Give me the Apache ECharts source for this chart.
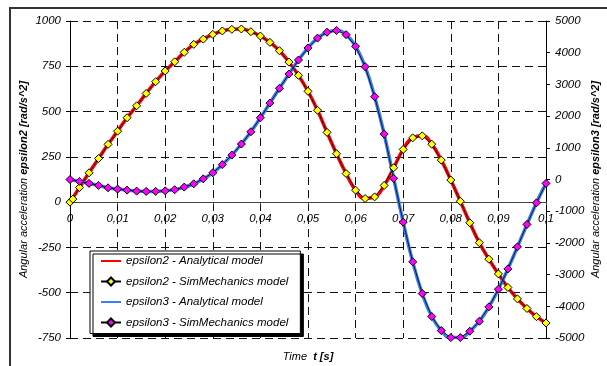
<!DOCTYPE html>
<html>
<head>
<meta charset="utf-8">
<script src="https://cdn.jsdelivr.net/npm/echarts@6/dist/echarts.min.js"></script>
<style>
    html, body { margin: 0; padding: 0; background: #fff; }
    #chart { width: 607px; height: 366px; }
</style>
</head>
<body>
<div id="chart"></div>
<script>
// time samples [s]
var times = [0, 0.002, 0.004, 0.006, 0.008, 0.010, 0.012, 0.014, 0.016, 0.018,
    0.020, 0.022, 0.024, 0.026, 0.028, 0.030, 0.032, 0.034, 0.036, 0.038,
    0.040, 0.042, 0.044, 0.046, 0.048, 0.050, 0.052, 0.054, 0.056, 0.058,
    0.060, 0.062, 0.064, 0.066, 0.068, 0.070, 0.072, 0.074, 0.076, 0.078,
    0.080, 0.082, 0.084, 0.086, 0.088, 0.090, 0.092, 0.094, 0.096, 0.098, 0.100];

// epsilon2 [rad/s^2], left axis
var eps2 = [0, 81, 162, 241, 319, 392, 466, 532, 600, 665,
    724, 775, 827, 871, 900, 926, 945, 954, 956, 941,
    917, 882, 836, 773, 700, 612, 507, 385, 267, 158,
    66, 20, 29, 92, 190, 291, 355, 366, 320, 232,
    122, 5, -114, -224, -315, -396, -471, -534, -587, -632, -667];

// epsilon3 [rad/s^2], right axis
var eps3 = [0, -60, -123, -186, -262, -303, -335, -366, -376, -376,
    -357, -320, -240, -136, 20, 212, 470, 770, 1118, 1506,
    1948, 2412, 2876, 3328, 3770, 4150, 4460, 4645, 4700, 4570,
    4200, 3559, 2611, 1434, 35, -1345, -2598, -3597, -4323, -4765,
    -4986, -4986, -4787, -4471, -4019, -3461, -2820, -2125, -1418, -736, -123];

// extra SimMechanics sample of epsilon2 right after t = 0
var eps2ExtraTime = [0.0006];
var eps2ExtraValue = [17];

var seriesNames = [
    'epsilon2 - Analytical model',
    'epsilon2 - SimMechanics model',
    'epsilon3 - Analytical model',
    'epsilon3 - SimMechanics model'
];

var leftTicks = { min: -750, max: 1000, interval: 250 };
var rightTicks = { min: -5000, max: 5000, interval: 1000 };
var timeTicks = { min: 0, max: 0.1, interval: 0.01 };

function pairs(xs, ys) {
    var out = [];
    for (var i = 0; i < xs.length; i++) {
        out.push([xs[i], ys[i]]);
    }
    return out;
}

var eps2Data = pairs(times, eps2);
var eps3Data = pairs(times, eps3);
var eps2SimData = eps2Data.slice(0, 1).concat(pairs(eps2ExtraTime, eps2ExtraValue), eps2Data.slice(1));

// plot box in pixels
var gridBox = { left: 70, right: 61, top: 21, bottom: 28 };
var plotHeight = 366 - gridBox.top - gridBox.bottom;
// the time axis sits on epsilon2 = 0, lift it from the grid bottom
var timeAxisOffset = -plotHeight * (0 - leftTicks.min) / (leftTicks.max - leftTicks.min);

var font = 'Liberation Sans, Arial, sans-serif';
var labelStyle = { fontFamily: font, fontStyle: 'italic', fontSize: 11.5, color: '#000' };
var nameRich = {
    n: { fontFamily: font, fontStyle: 'italic', fontSize: 11, color: '#000' },
    b: { fontFamily: font, fontStyle: 'italic', fontWeight: 'bold', fontSize: 11, color: '#000' }
};
var gridDash = { type: [8, 5], color: '#111', width: 1 };
var noSymbol = { color: 'rgba(0,0,0,0)', borderWidth: 0 };

function plainNumber(v) {
    return String(v);
}

var chart = echarts.init(document.getElementById('chart'));
var option = {
    animation: false,
    backgroundColor: '#fff',
    graphic: [{
        type: 'rect',
        shape: { x: 10, y: 8, width: 700, height: 500 },
        style: { fill: 'none', stroke: '#333', lineWidth: 2 },
        silent: true
    }],
    grid: {
        left: gridBox.left, right: gridBox.right, top: gridBox.top, bottom: gridBox.bottom,
        containLabel: false, outerBoundsMode: 'none'
    },
    legend: {
        orient: 'vertical',
        left: 90,
        top: 251,
        padding: [3, 12, 4, 10],
        itemGap: 6.5,
        itemWidth: 20,
        itemHeight: 10,
        backgroundColor: '#fff',
        borderColor: '#000',
        borderWidth: 1,
        shadowColor: '#000',
        shadowBlur: 0,
        shadowOffsetX: 3,
        shadowOffsetY: 3,
        textStyle: { fontFamily: font, fontStyle: 'italic', fontSize: 11.5, color: '#000', lineHeight: 14 },
        data: [
            { name: seriesNames[0], itemStyle: noSymbol },
            seriesNames[1],
            { name: seriesNames[2], itemStyle: noSymbol },
            seriesNames[3]
        ]
    },
    xAxis: {
        type: 'value',
        min: timeTicks.min,
        max: timeTicks.max,
        interval: timeTicks.interval,
        offset: timeAxisOffset,
        name: '{n|Time  }{b|t [s]}',
        nameLocation: 'middle',
        nameGap: 149,
        nameMoveOverlap: false,
        nameTextStyle: { rich: nameRich },
        axisLine: { onZero: false, lineStyle: { color: '#444', width: 1 } },
        axisTick: { show: true, length: 3, lineStyle: { color: '#444' } },
        axisLabel: Object.assign({
            margin: 11,
            formatter: function (v) {
                return String(Math.round(v * 100) / 100).replace('.', ',');
            }
        }, labelStyle),
        splitLine: { show: true, lineStyle: gridDash }
    },
    yAxis: [{
        type: 'value',
        position: 'left',
        min: leftTicks.min,
        max: leftTicks.max,
        interval: leftTicks.interval,
        name: '{n|Angular acceleration }{b|epsilon2 [rad/s^2]}',
        nameLocation: 'middle',
        nameRotate: 90,
        nameGap: 41,
        nameMoveOverlap: false,
        nameTextStyle: { rich: nameRich },
        axisLine: { show: true, onZero: false, lineStyle: { color: '#000', width: 1 } },
        axisTick: { show: true, length: 4, lineStyle: { color: '#000' } },
        axisLabel: Object.assign({ margin: 9, formatter: plainNumber }, labelStyle),
        splitLine: { show: true, lineStyle: gridDash }
    }, {
        type: 'value',
        position: 'right',
        min: rightTicks.min,
        max: rightTicks.max,
        interval: rightTicks.interval,
        name: '{n|Angular acceleration }{b|epsilon3 [rad/s^2]}',
        nameLocation: 'middle',
        nameRotate: 90,
        nameGap: 44,
        nameMoveOverlap: false,
        nameTextStyle: { rich: nameRich },
        axisLine: { show: true, onZero: false, lineStyle: { color: '#000', width: 1 } },
        axisTick: { show: true, length: 4, lineStyle: { color: '#000' } },
        axisLabel: Object.assign({ margin: 9, formatter: plainNumber }, labelStyle),
        splitLine: { show: false }
    }],
    series: [
        {
            name: seriesNames[0],
            type: 'line',
            yAxisIndex: 0,
            smooth: true,
            symbol: 'none',
            z: 2,
            itemStyle: { color: '#ff0000' },
            lineStyle: { color: '#ff0000', width: 3.5 },
            data: eps2Data
        },
        {
            name: seriesNames[1],
            type: 'line',
            yAxisIndex: 0,
            symbol: 'diamond',
            symbolSize: 8,
            showAllSymbol: true,
            z: 4,
            itemStyle: { color: '#ffff00', borderColor: '#000', borderWidth: 1 },
            lineStyle: { color: '#000', width: 0.8 },
            data: eps2SimData
        },
        {
            name: seriesNames[2],
            type: 'line',
            yAxisIndex: 1,
            smooth: true,
            symbol: 'none',
            z: 2,
            itemStyle: { color: '#3d7ef2' },
            lineStyle: { color: '#3d7ef2', width: 3.5 },
            data: eps3Data
        },
        {
            name: seriesNames[3],
            type: 'line',
            yAxisIndex: 1,
            symbol: 'diamond',
            symbolSize: 8,
            showAllSymbol: true,
            z: 4,
            itemStyle: { color: '#ff00ff', borderColor: '#000', borderWidth: 1 },
            lineStyle: { color: '#000', width: 0.8 },
            data: eps3Data
        }
    ]
};
chart.setOption(option);
</script>
</body>
</html>
